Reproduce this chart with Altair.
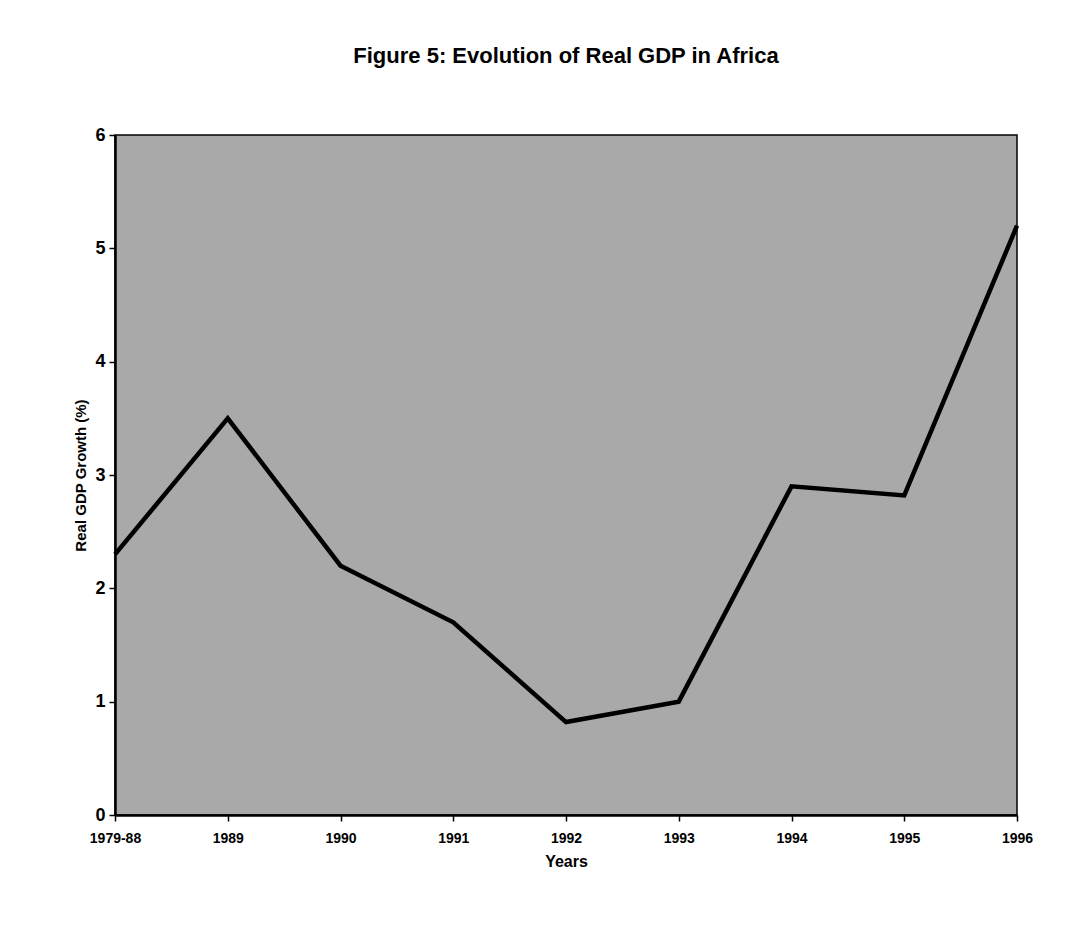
import altair as alt
import pandas as pd

years = ["1979-88", "1989", "1990", "1991", "1992", "1993", "1994", "1995", "1996"]
growth = [2.3, 3.5, 2.2, 1.7, 0.82, 1.0, 2.9, 2.82, 5.2]

df = pd.DataFrame({"Year": years, "Growth": growth})

FONT = "Liberation Sans"

line = alt.Chart(df).mark_line(color="black", strokeWidth=4.5, strokeJoin="miter").encode(
    x=alt.X("Year:N", sort=years,
            scale=alt.Scale(type="point", padding=0),
            axis=alt.Axis(title="Years", labelAngle=0, titleFontSize=16, titleFont=FONT,
                          titleFontWeight="bold", labelFont=FONT, labelFontSize=14,
                          labelFontWeight="bold", labelColor="black", titleColor="black",
                          domainColor="black", domainWidth=2.5, tickColor="black",
                          tickSize=6, tickWidth=1.5, labelPadding=10, titlePadding=8,
                          grid=False)),
    y=alt.Y("Growth:Q",
            scale=alt.Scale(domain=[0, 6], nice=False),
            axis=alt.Axis(title="Real GDP Growth (%)", values=[0, 1, 2, 3, 4, 5, 6],
                          titleFontSize=15, titleFont=FONT, titleFontWeight="bold",
                          labelFont=FONT, labelFontSize=18, labelFontWeight="bold",
                          labelColor="black", titleColor="black", domainColor="black",
                          domainWidth=2.5, tickColor="black", tickSize=6, tickWidth=1.5,
                          labelPadding=4, titlePadding=6, grid=False)),
)

chart = line.properties(
    width=902,
    height=680,
    title=alt.TitleParams("Figure 5: Evolution of Real GDP in Africa", font=FONT,
                          fontSize=22, fontWeight="bold", color="black",
                          anchor="middle", offset=58),
    autosize=alt.AutoSizeParams(type="none"),
    padding={"left": 107, "top": 127, "right": 40, "bottom": 100},
    background="white",
).configure_view(
    fill="#a9a9a9", stroke="black", strokeWidth=1.5
)

chart.save("out.html", embed_options={"renderer": "svg", "actions": False})
